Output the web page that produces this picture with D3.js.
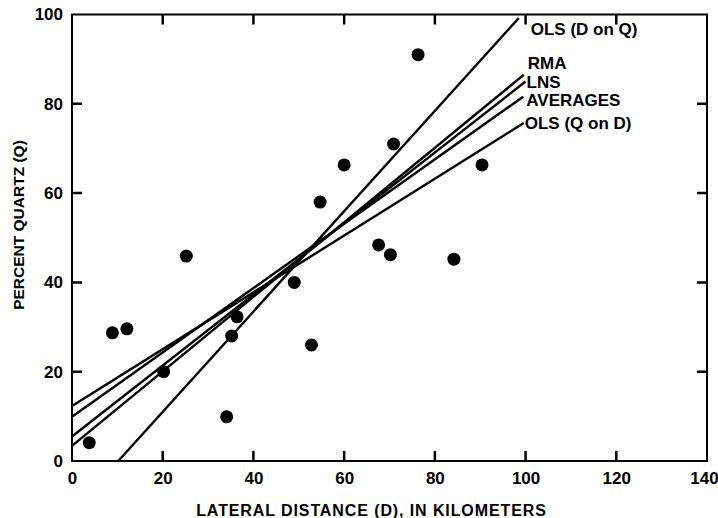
<!DOCTYPE html>
<html>
<head>
<meta charset="utf-8">
<script src="https://cdn.jsdelivr.net/npm/d3@7"></script>
<style>
  body { margin: 0; background: #fff; }
  text { font-family: "Liberation Sans", Arial, sans-serif; font-weight: bold; fill: #000; }
</style>
</head>
<body>
<div id="chart"></div>
<script>
// sample points, lateral distance (km) vs percent quartz
var distance = [3.8, 8.9, 12.1, 20.2, 25.2, 34.1, 35.2, 36.4, 49.0, 52.8, 54.7, 60.0, 67.6, 70.2, 70.9, 76.3, 84.2, 90.4];
var quartz = [4.1, 28.7, 29.6, 20.0, 45.9, 9.9, 28.0, 32.3, 40.0, 26.0, 58.0, 66.3, 48.4, 46.2, 71.0, 91.0, 45.2, 66.3];

// fitted lines: start and end in data units
var line_names = ["OLS (D on Q)", "RMA", "LNS", "AVERAGES", "OLS (Q on D)"];
var line_start = [[10.2, 0], [0, 3.4], [0, 5.5], [0, 9.9], [0, 12.3]];
var line_end = [[98.5, 99.2], [99.6, 86.5], [100, 85.0], [99.5, 81.6], [99.6, 75.7]];

var x_ticks = [0, 20, 40, 60, 80, 100, 120, 140];
var y_ticks = [0, 20, 40, 60, 80, 100];

var width = 718, height = 518;
var margin = { top: 14.5, right: 11, bottom: 57, left: 72 };
var tick_len = 10;

// label nudges from the line end, px
var label_offsets = [[12, 17], [4, -6], [1, 7], [3, 9], [1, 6]];

var svg = d3.select("#chart")
  .append("svg")
  .attr("width", width)
  .attr("height", height);

var x = d3.scaleLinear()
  .domain([0, 140])
  .range([margin.left, width - margin.right]);

var y = d3.scaleLinear()
  .domain([0, 100])
  .range([height - margin.bottom, margin.top]);

// frame
svg.append("rect")
  .attr("x", x(0))
  .attr("y", y(100))
  .attr("width", x(140) - x(0))
  .attr("height", y(0) - y(100))
  .attr("fill", "none")
  .attr("stroke", "#000")
  .attr("stroke-width", 2);

// tick labels from the axes, marks drawn separately
var x_axis = svg.append("g")
  .attr("transform", "translate(0," + y(0) + ")")
  .call(d3.axisBottom(x).tickValues(x_ticks).tickSize(0).tickPadding(11));

var y_axis = svg.append("g")
  .attr("transform", "translate(" + x(0) + ",0)")
  .call(d3.axisLeft(y).tickValues(y_ticks).tickSize(0).tickPadding(9));

[x_axis, y_axis].forEach(function (g) {
  g.select(".domain").remove();
  g.selectAll("line").remove();
  g.selectAll("text").attr("font-size", "17px");
});

// 140 sits on the page edge
x_axis.selectAll(".tick").filter((d) => d === 140).select("text").attr("dx", "-3px");

// inward tick marks on all four sides, one path
var inner_x = x_ticks.slice(1, -1),
  inner_y = y_ticks.slice(1, -1);

var tick_path = d3.path();
inner_x.forEach(function (d) {
  tick_path.moveTo(x(d), y(0));
  tick_path.lineTo(x(d), y(0) - tick_len);
  tick_path.moveTo(x(d), y(100));
  tick_path.lineTo(x(d), y(100) + tick_len);
});
inner_y.forEach(function (d) {
  tick_path.moveTo(x(0), y(d));
  tick_path.lineTo(x(0) + tick_len, y(d));
  tick_path.moveTo(x(140), y(d));
  tick_path.lineTo(x(140) - tick_len, y(d));
});

svg.append("path")
  .attr("class", "ticks")
  .attr("d", tick_path.toString())
  .attr("fill", "none")
  .attr("stroke", "#000")
  .attr("stroke-width", 2.5);

// regression lines
var lines = line_names.map(function (n, i) {
  return { name: n, start: line_start[i], end: line_end[i], off: label_offsets[i] };
});

svg.selectAll(".fit")
  .data(lines)
  .enter()
  .append("line")
  .attr("class", "fit")
  .attr("x1", (d) => x(d.start[0]))
  .attr("y1", (d) => y(d.start[1]))
  .attr("x2", (d) => x(d.end[0]))
  .attr("y2", (d) => y(d.end[1]))
  .attr("stroke", "#000")
  .attr("stroke-width", 2.4);

svg.selectAll(".fit-label")
  .data(lines)
  .enter()
  .append("text")
  .attr("class", "fit-label")
  .attr("x", (d) => x(d.end[0]) + d.off[0])
  .attr("y", (d) => y(d.end[1]) + d.off[1])
  .attr("font-size", "17px")
  .text((d) => d.name);

// points
svg.selectAll(".pt")
  .data(distance)
  .enter()
  .append("circle")
  .attr("class", "pt")
  .attr("cx", (d) => x(d))
  .attr("cy", (d, i) => y(quartz[i]))
  .attr("r", 6.5)
  .attr("fill", "#000");

// axis titles
svg.append("text")
  .attr("x", 371.5)
  .attr("y", 516)
  .attr("text-anchor", "middle")
  .attr("font-size", "16px")
  .attr("letter-spacing", "0.9px")
  .text("LATERAL DISTANCE (D), IN KILOMETERS");

svg.append("text")
  .attr("transform", "translate(24,225) rotate(-90)")
  .attr("text-anchor", "middle")
  .attr("font-size", "15.5px")
  .text("PERCENT QUARTZ (Q)");
</script>
</body>
</html>
